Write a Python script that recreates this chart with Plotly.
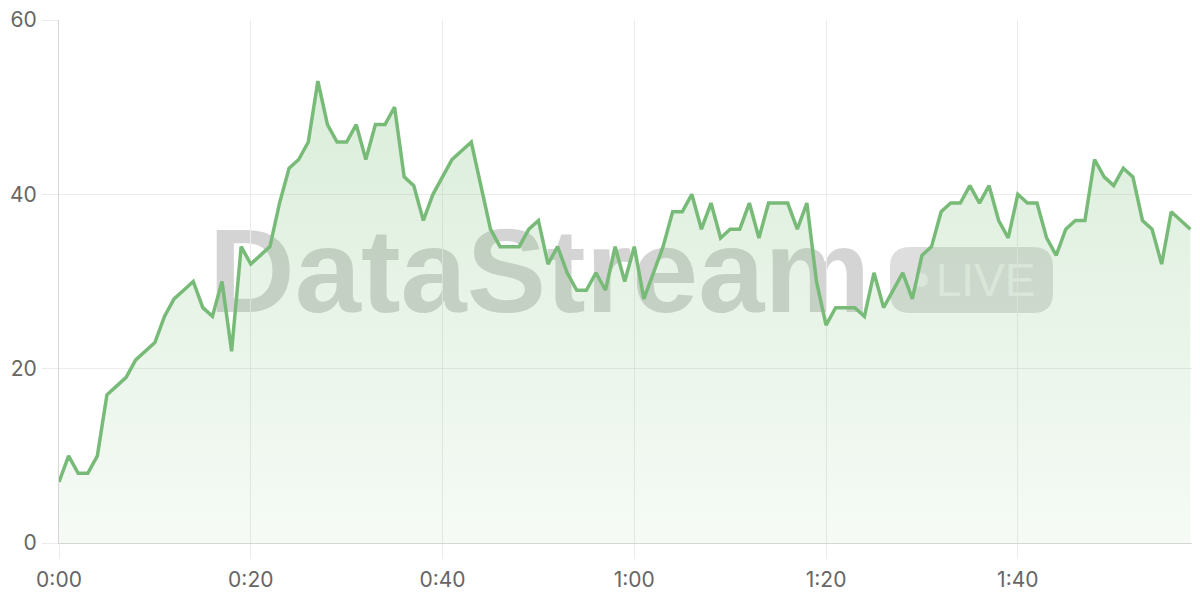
import plotly.graph_objects as go

seconds = list(range(119))
values = [7, 10, 8, 8, 10, 17, 18, 19, 21, 22,
          23, 26, 28, 29, 30, 27, 26, 30, 22, 34,
          32, 33, 34, 39, 43, 44, 46, 53, 48, 46,
          46, 48, 44, 48, 48, 50, 42, 41, 37, 40,
          42, 44, 45, 46, 41, 36, 34, 34, 34, 36,
          37, 32, 34, 31, 29, 29, 31, 29, 34, 30,
          34, 28, 31, 34, 38, 38, 40, 36, 39, 35,
          36, 36, 39, 35, 39, 39, 39, 36, 39, 30,
          25, 27, 27, 27, 26, 31, 27, 29, 31, 28,
          33, 34, 38, 39, 39, 41, 39, 41, 37, 35,
          40, 39, 39, 35, 33, 36, 37, 37, 44, 42,
          41, 43, 42, 37, 36, 32, 38, 37, 36]
x_tick_vals = [0, 20, 40, 60, 80, 100]
x_tick_text = ["0:00", "0:20", "0:40", "1:00", "1:20", "1:40"]
y_tick_vals = [0, 20, 40, 60]

# page body has an 8px margin: figure is drawn offset by (8, 8)
OFF = 8
W, H = 1192, 592
PL, PR, PT, PB = 59, 1200, 20, 543          # plot area in screen pixels
ML, MT = PL - OFF, PT - OFF
MR = (W + OFF) - PR
MB = (H + OFF) - PB
PW, PH = PR - PL, PB - PT


def px(xp):
    return (xp - PL) / PW


def py(yp):
    return (PB - yp) / PH


fig = go.Figure()
fig.add_trace(go.Scatter(
    x=seconds, y=values, mode="lines",
    line=dict(color="#78bb78", width=3.5),
    fill="tozeroy",
    fillgradient=dict(type="vertical",
                      colorscale=[[0, "rgba(120,190,120,0.07)"],
                                  [1, "rgba(120,190,120,0.27)"]]),
    hoverinfo="skip", showlegend=False,
))

# watermark
shapes = []
shapes.append(dict(type="rect", xref="paper", yref="paper",
                   x0=px(204), x1=px(875), y0=py(307), y1=py(212),
                   line=dict(width=0), fillcolor="rgba(0,0,0,0)", layer="between",
                   label=dict(text="<b>DataStream</b>",
                              font=dict(family="Liberation Sans", size=119,
                                        color="rgba(0,0,0,0.17)"),
                              textposition="middle center")))
# badge rounded rect
bx0, bx1, by0, by1, r = 890, 1053, 247, 313, 20
rx, ry = r / PW, r / PH
X0, X1, Y0, Y1 = px(bx0), px(bx1), py(by1), py(by0)
path = (f"M{X0+rx},{Y0} L{X1-rx},{Y0} Q{X1},{Y0} {X1},{Y0+ry} "
        f"L{X1},{Y1-ry} Q{X1},{Y1} {X1-rx},{Y1} L{X0+rx},{Y1} "
        f"Q{X0},{Y1} {X0},{Y1-ry} L{X0},{Y0+ry} Q{X0},{Y0} {X0+rx},{Y0} Z")
shapes.append(dict(type="path", xref="paper", yref="paper", path=path,
                   line=dict(width=0), fillcolor="rgba(0,0,0,0.13)", layer="between"))
shapes.append(dict(type="circle", xref="paper", yref="paper",
                   x0=px(914), x1=px(928), y0=py(287), y1=py(273),
                   line=dict(width=0), fillcolor="rgba(255,255,255,0.5)", layer="between"))
shapes.append(dict(type="rect", xref="paper", yref="paper",
                   x0=px(932), x1=px(1039), y0=py(301), y1=py(251),
                   line=dict(width=0), fillcolor="rgba(0,0,0,0)", layer="between",
                   label=dict(text="LIVE",
                              font=dict(family="Liberation Sans", size=46,
                                        color="rgba(255,255,255,0.55)"),
                              textposition="middle center")))

fig.update_layout(
    width=W, height=H,
    margin=dict(l=ML, r=MR, t=MT, b=MB, autoexpand=False),
    paper_bgcolor="white", plot_bgcolor="white",
    shapes=shapes,
    font=dict(family="Inter", size=21, color="#666666"),
    xaxis=dict(range=[0, 119], tickvals=x_tick_vals, ticktext=x_tick_text,
               showgrid=True, gridcolor="#ebebeb", gridwidth=1,
               ticks="outside", ticklen=15, tickcolor="#ebebeb", tickwidth=1,
               showline=True, linecolor="#d6d6d6", linewidth=1,
               zeroline=False, ticklabelstandoff=3, automargin=False,
               ticklabeloverflow="allow"),
    yaxis=dict(range=[0, 60], tickvals=y_tick_vals,
               showgrid=True, gridcolor="#ebebeb", gridwidth=1,
               ticks="outside", ticklen=16, tickcolor="#ebebeb", tickwidth=1,
               showline=True, linecolor="#d6d6d6", linewidth=1,
               zeroline=False, ticklabelstandoff=1, automargin=False,
               ticklabeloverflow="allow"),
)

fig.write_html("out.html")
